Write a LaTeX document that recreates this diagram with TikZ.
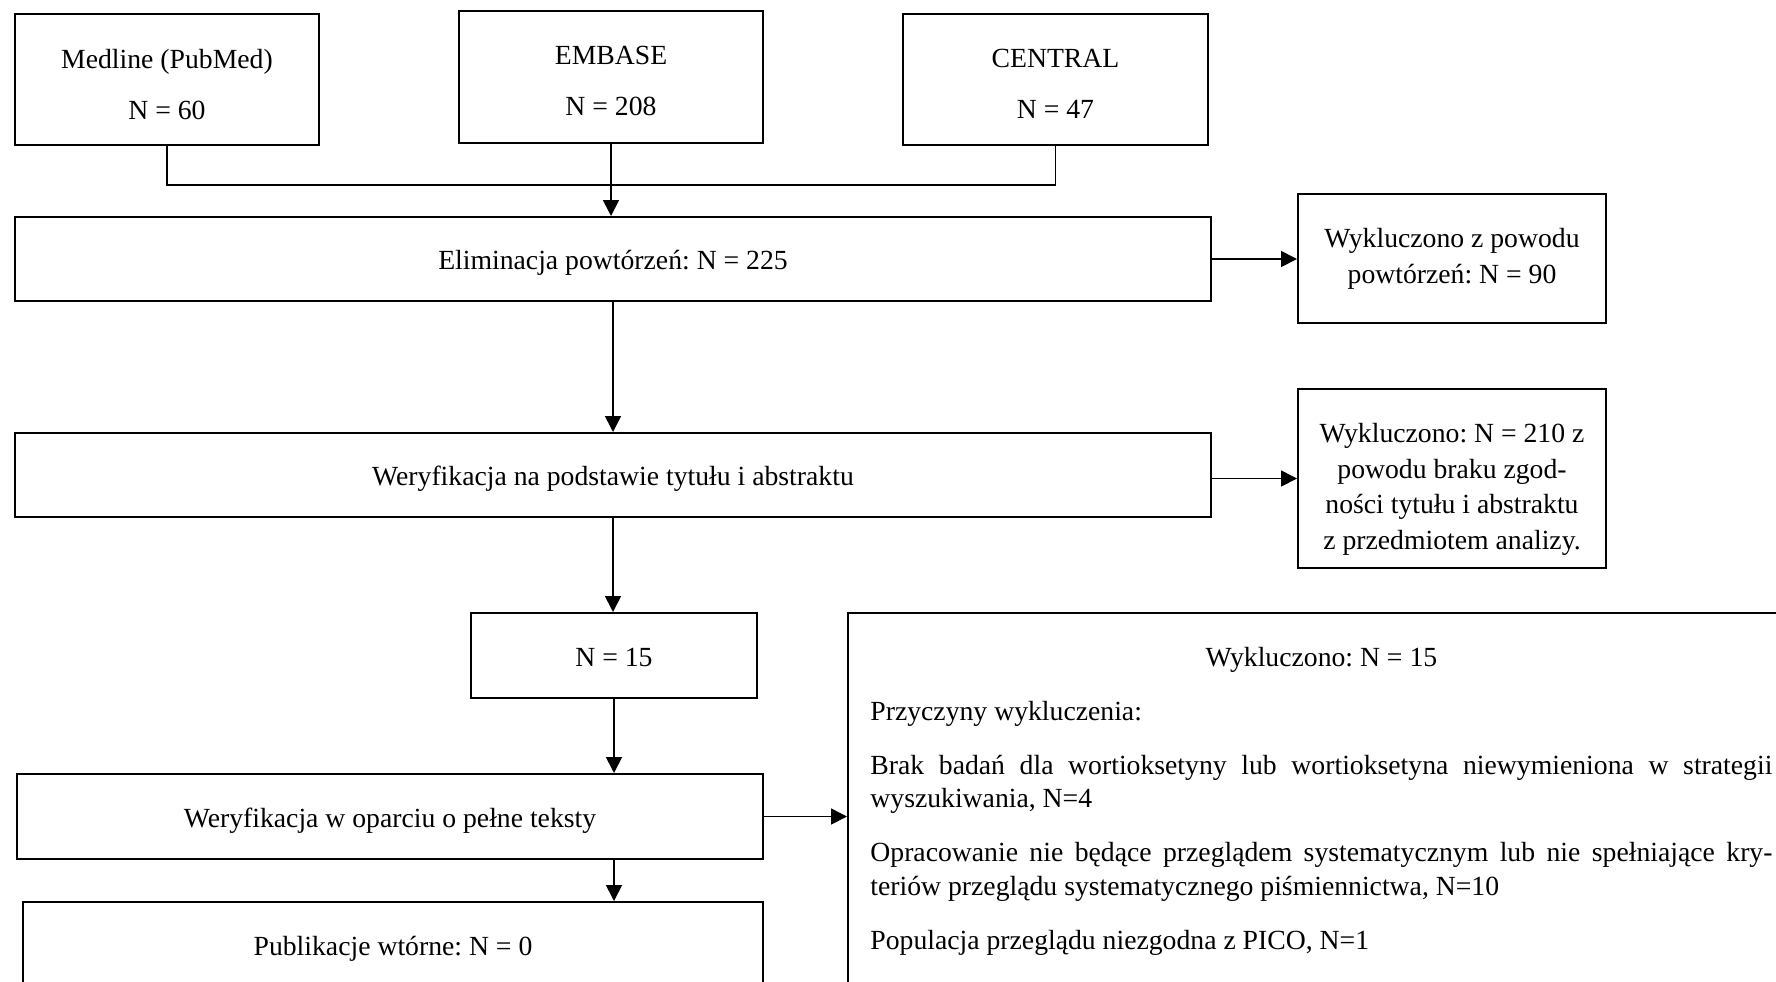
\documentclass[tikz,border=0pt]{standalone}
\usepackage{fontspec}
\setmainfont{Liberation Serif}
\usetikzlibrary{arrows.meta}
\frenchspacing
\newcommand\mainfnt{\fontsize{13.85pt}{17.85pt}\selectfont}
\newcommand\topstrut[1]{\rule{0pt}{#1}}
\tikzset{
  box/.style={draw, line width=1pt, rectangle, inner sep=0pt, align=center, font=\mainfnt},
  onebox/.style={box, text height=13pt, text depth=2.3pt},
  conn/.style={line width=0.85pt},
  arr/.style={conn, -{Triangle[length=8pt,width=8pt]}},
}
\begin{document}
\begin{tikzpicture}[x=0.5pt, y=-0.5pt]
\useasboundingbox (0,0) rectangle (1776,981);
\clip (0,0) rectangle (1776,981);
% source boxes
\node[box, minimum width=152pt, minimum height=65.5pt] (med) at (167,79.5) {\topstrut{15pt}Medline (PubMed)\\[7.65pt]N = 60};
\node[box, minimum width=152pt, minimum height=66pt] (emb) at (611,77) {\topstrut{13pt}EMBASE\\[7.65pt]N = 208};
\node[box, minimum width=152.5pt, minimum height=65.5pt] (cen) at (1055.5,79.5) {\topstrut{13.5pt}CENTRAL\\[7.65pt]N = 47};
% main flow
\node[onebox, minimum width=598pt, minimum height=42pt] (elim) at (613,259) {Eliminacja powtórzeń: N = 225};
\node[box, minimum width=154pt, minimum height=64.5pt] (wyk1) at (1452,258.5) {Wykluczono z powodu\\powtórzeń: N = 90};
\node[onebox, minimum width=598pt, minimum height=42pt] (wer) at (613,475) {Weryfikacja na podstawie tytułu i abstraktu};
\node[box, minimum width=154pt, minimum height=89.5pt] (wyk2) at (1452,478.5) {\topstrut{20.5pt}Wykluczono: N = 210 z\\powodu braku zgod-\\ności tytułu i abstraktu\\z przedmiotem analizy.};
\node[onebox, minimum width=143pt, minimum height=42.5pt] (n15) at (614,655.5) {N = 15};
\node[onebox, minimum width=373pt, minimum height=42.5pt] (full) at (390,816.5) {Weryfikacja w oparciu o pełne teksty};
\node[onebox, minimum width=370pt, minimum height=43pt] (pub) at (393,945) {Publikacje wtórne: N = 0};
\node[box, minimum width=476pt, minimum height=198.5pt] (big) at (1324,811.5) {};
\node[anchor=base west, inner sep=0pt] (bigtxt) at (870,666) {\parbox[t]{451pt}{\fontsize{13.85pt}{16.75pt}\selectfont
  \setlength{\parskip}{10.25pt}\hyphenpenalty=10000\tolerance=9999
  \makebox[\linewidth]{Wykluczono: N = 15}\par
  Przyczyny wykluczenia:\par
  Brak badań dla wortioksetyny lub wortioksetyna niewymieniona w strategii\linebreak wyszukiwania, N=4\par
  Opracowanie nie będące przeglądem systematycznym lub nie spełniające kry-\linebreak teriów przeglądu systematycznego piśmiennictwa, N=10\par
  Populacja przeglądu niezgodna z PICO, N=1}};
% connectors
\coordinate (jn) at (611,185);
\draw[conn] (med.south) |- (jn) -| (cen.south);
\draw[arr] (emb.south) -- (emb.south |- elim.north);
\draw[arr] (elim.east) -- (elim.east -| wyk1.west);
\draw[arr] (elim.south) -- (elim.south |- wer.north);
\draw[arr] (wyk2.west -| wer.east) -- (wyk2.west);
\draw[arr] (wer.south) -- (wer.south |- n15.north);
\draw[arr] (n15.south) -- (n15.south |- full.north);
\draw[arr] (full.east) -- (full.east -| big.west);
\draw[arr] (n15.south |- full.south) -- (n15.south |- pub.north);
\end{tikzpicture}
\end{document}
